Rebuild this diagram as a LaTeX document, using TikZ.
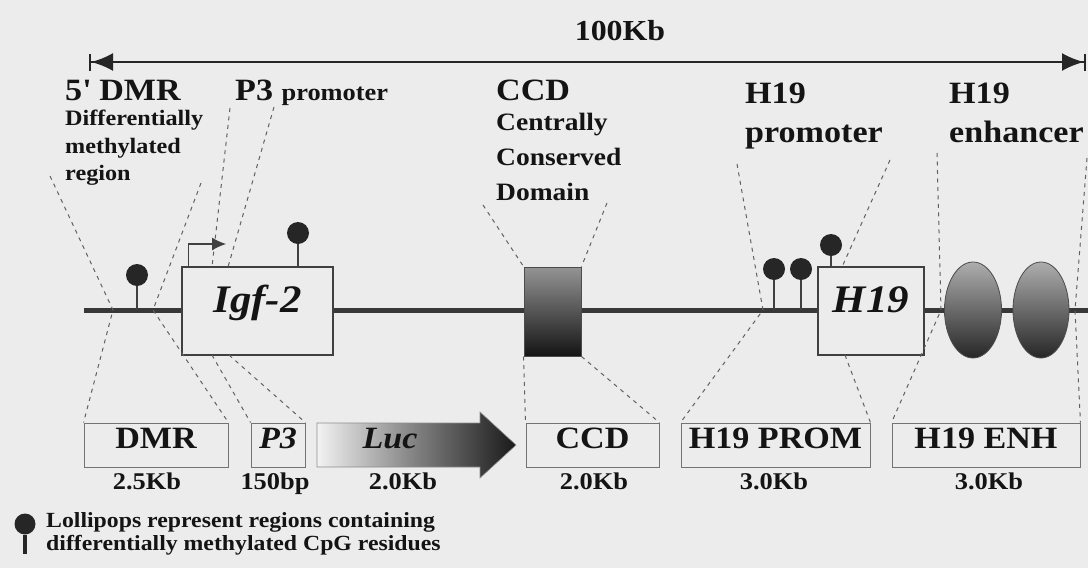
\documentclass[tikz,border=0pt]{standalone}
\usepackage{fontspec}
\setmainfont{Liberation Serif}[FakeStretch=1.1]
\usetikzlibrary{arrows.meta,positioning,shapes.geometric}
\definecolor{bgpaper}{RGB}{236,236,236}

\begin{document}
\begin{tikzpicture}[
    x=1pt, y=-1pt,
    every node/.style={text=black!92, inner sep=0pt},
    biglbl/.style={anchor=base west, font=\bfseries\fontsize{31}{39}\selectfont},
    note/.style={anchor=north west, align=left, font=\bfseries\fontsize{22}{27.5}\selectfont},
    gene/.style={draw=black!75, line width=1.2pt, fill=bgpaper, minimum height=88pt, text height=26pt, text depth=23pt, font=\bfseries\itshape\fontsize{39}{41}\selectfont},
    slot/.style={draw=black!55, line width=0.9pt, minimum height=44pt, text height=20pt, text depth=14pt, font=\bfseries\fontsize{31}{33}\selectfont},
    sizelbl/.style={anchor=base, font=\bfseries\fontsize{24}{26}\selectfont},
    pop/.style={circle, fill=black!85, minimum size=22pt},
    stem/.style={line width=1.2pt, draw=black!75},
    guide/.style={dash pattern=on 4pt off 4.5pt, line width=1pt, draw=black!62},
    chrom/.style={line width=5pt, draw=black!78}
]
\fill[bgpaper] (0,0) rectangle (1088,568);
\useasboundingbox (0,0) rectangle (1088,568);

% scale bar
\coordinate (scaleL) at (89,62);
\coordinate (scaleR) at (1086,62);
\draw[line width=2.6pt, black!85, {Bar[width=17pt,line width=2pt]Latex[length=22pt,width=18pt]}-{Latex[length=22pt,width=18pt]Bar[width=17pt,line width=2pt]}] (scaleL) -- (scaleR);
\node[anchor=base, font=\bfseries\fontsize{29}{31}\selectfont] (kb) at (620,40) {100Kb};

% labels above
\node[biglbl] (dmrlbl) at (65,100) {5\textquotesingle{} DMR};
\node[note] (dmrnote) at (65,110) {Differentially\\methylated\\region};
\node[biglbl] (p3lbl) at (235,100) {P3 {\fontsize{24}{26}\selectfont promoter}};
\node[biglbl] (ccdlbl) at (496,100) {CCD};
\node[note, font=\bfseries\fontsize{25}{35}\selectfont] (ccdnote) at (496,113) {Centrally\\Conserved\\Domain};
\node[note, font=\bfseries\fontsize{31}{39}\selectfont] (promlbl) at (745,83) {H19\\promoter};
\node[note, font=\bfseries\fontsize{31}{39}\selectfont] (enhlbl) at (949,83) {H19\\enhancer};

% chromosome
\coordinate (chrL) at (84,310);
\coordinate (chrR) at (1088,310);
\draw[chrom] (chrL) -- (chrR);

\node[gene, minimum width=151pt] (igf) at (257.5,311) {Igf-2};
\node[draw=black!70, line width=1pt, minimum width=57pt, minimum height=89pt, top color=black!42, bottom color=black!92] (ccdgene) at (552.5,311.5) {};
\node[gene, minimum width=106pt] (h19) at (871,311) {H19};
\node[ellipse, draw=black!70, line width=0.8pt, minimum width=57pt, minimum height=96pt, top color=black!32, bottom color=black!85] (enh1) at (973,310) {};
\node[ellipse, draw=black!70, line width=0.8pt, minimum width=56pt, minimum height=96pt, top color=black!32, bottom color=black!85] (enh2) at (1041,310) {};

% constructs below
\node[slot, minimum width=144pt] (dmr) at (156,445) {DMR};
\node[slot, minimum width=54pt] (p3) at (278,445) {\textit{P3}};
\shade[draw=black!45, line width=0.6pt, left color=black!5, right color=black!90, middle color=black!50] (317,423) -- (480,423) -- (480,412) -- (516,445) -- (480,478) -- (480,467) -- (317,467) -- cycle;
\node[text height=20pt, text depth=14pt, font=\bfseries\itshape\fontsize{31}{33}\selectfont] (luc) at (390,445) {Luc};
\node[slot, minimum width=133pt] (ccd) at (592.5,445) {CCD};
\node[slot, minimum width=189pt] (prom) at (775.5,445) {H19 PROM};
\node[slot, minimum width=188pt] (enh) at (986,445) {H19 ENH};

\node[sizelbl] (dmrsize) at (147,489) {2.5Kb};
\node[sizelbl] (p3size) at (275,489) {150bp};
\node[sizelbl] (lucsize) at (403,489) {2.0Kb};
\node[sizelbl] (ccdsize) at (594,489) {2.0Kb};
\node[sizelbl] (promsize) at (774,489) {3.0Kb};
\node[sizelbl] (enhsize) at (989,489) {3.0Kb};

% dashed guides
\coordinate (dmrTopL) at (50,176);
\coordinate (dmrKneeL) at (113,310);
\coordinate (dmrTopR) at (201,183);
\coordinate (dmrKneeR) at (153,310);
\coordinate (p3TopL) at (230,108);
\coordinate (p3KneeL) at (212,267);
\coordinate (p3FootL) at (212,355);
\coordinate (p3TopR) at (274,107);
\coordinate (p3KneeR) at (228,267);
\coordinate (p3FootR) at (229,355);
\coordinate (ccdTopL) at (483,205);
\coordinate (ccdTopR) at (607,203);
\coordinate (promTopL) at (737,164);
\coordinate (promKneeL) at (763,310);
\coordinate (promTopR) at (890,160);
\coordinate (promKneeR) at (842,267);
\coordinate (promFootR) at (845,355);
\coordinate (enhTopL) at (937,153);
\coordinate (enhKneeL) at (941,310);
\coordinate (enhTopR) at (1087,158);
\coordinate (enhKneeR) at (1075,310);

\draw[guide] (dmrTopL) -- (dmrKneeL) -- (dmr.north west);
\draw[guide] (dmrTopR) -- (dmrKneeR) -- (dmr.north east);
\draw[guide] (p3TopL) -- (p3KneeL);
\draw[guide] (p3FootL) -- (p3.north west);
\draw[guide] (p3TopR) -- (p3KneeR);
\draw[guide] (p3FootR) -- (p3.north east);
\draw[guide] (ccdTopL) -- (ccdgene.north west);
\draw[guide] (ccdgene.south west) -- (ccd.north west);
\draw[guide] (ccdTopR) -- (ccdgene.north east);
\draw[guide] (ccdgene.south east) -- (ccd.north east);
\draw[guide] (promTopL) -- (promKneeL) -- (prom.north west);
\draw[guide] (promTopR) -- (promKneeR);
\draw[guide] (promFootR) -- (prom.north east);
\draw[guide] (enhTopL) -- (enhKneeL) -- (enh.north west);
\draw[guide] (enhTopR) -- (enhKneeR) -- (enh.north east);

% promoter arrow
\coordinate (tssEnd) at (226,244);
\draw[stem, -{Latex[length=14pt,width=13pt]}] ([xshift=7pt]igf.north west) |- (tssEnd);

% lollipops
\foreach \px/\py/\sy [count=\i] in {137/275/310, 298/233/267, 774/269/310, 801/269/310, 831/245/267} {
  \coordinate (stem\i) at (\px,\sy);
  \node[pop] (pop\i) at (\px,\py) {};
  \draw[stem] (pop\i) -- (stem\i);
}

% key
\node[pop, minimum size=21pt] (keypop) at (25,524) {};
\coordinate (keybase) at (25,554);
\draw[line width=3.5pt, black!85] (keypop) -- (keybase);
\node[note, font=\bfseries\fontsize{21.6}{23}\selectfont] (keytxt) at (46,512) {Lollipops represent regions containing\\differentially methylated CpG residues};
\end{tikzpicture}
\end{document}
